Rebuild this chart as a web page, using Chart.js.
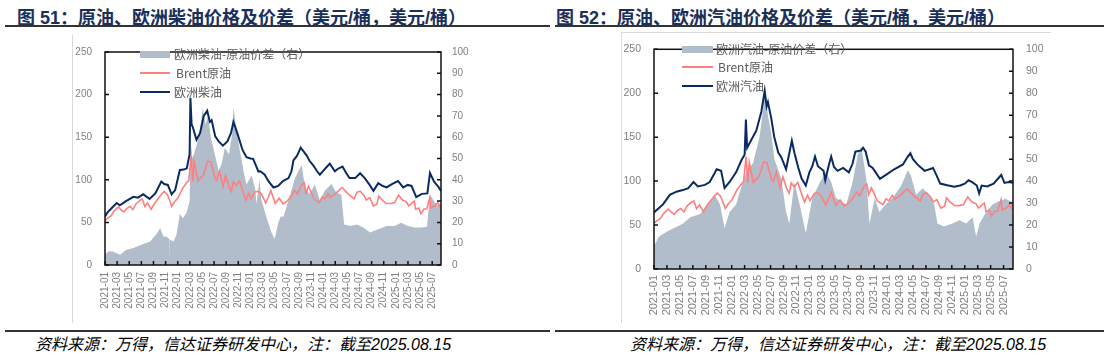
<!DOCTYPE html>
<html><head><meta charset="utf-8">
<script src="https://cdn.jsdelivr.net/npm/chart.js@4.4.1/dist/chart.umd.min.js"></script>
<style>
html,body{margin:0;padding:0;background:#fff;}
body{width:1108px;height:355px;position:relative;overflow:hidden;font-family:"Liberation Sans","Noto Sans CJK SC",sans-serif;}
.title{position:absolute;top:3px;font:bold 18px "Liberation Sans","Noto Sans CJK SC",sans-serif;color:#1b2f5b;white-space:nowrap;letter-spacing:0;}
.rule{position:absolute;height:1.5px;background:#333;}
.src{position:absolute;top:331px;font:italic 16px "Liberation Sans","Noto Sans CJK SC",sans-serif;color:#000;white-space:nowrap;}
.frame{position:absolute;background:#d9d9d9;}
.cv{position:absolute;}
.lg{position:absolute;font:12px "Noto Sans CJK SC","Liberation Sans",sans-serif;color:#595959;white-space:nowrap;line-height:14px;}
.sw{position:absolute;}
</style></head>
<body>
<div class="title" style="left:17px">图 51：原油、欧洲柴油价格及价差（美元/桶，美元/桶）</div>
<div class="title" style="left:556px">图 52：原油、欧洲汽油价格及价差（美元/桶，美元/桶）</div>
<div class="rule" style="left:5px;width:545px;top:25px"></div>
<div class="rule" style="left:555px;width:549px;top:25px"></div>
<div class="frame" style="left:72px;top:35px;width:1px;height:288px"></div>
<div class="frame" style="left:621px;top:32px;width:1px;height:291px"></div>
<div class="frame" style="left:621px;top:32px;width:430px;height:1px"></div>

<div class="cv" style="left:60px;top:33px"><canvas id="c1" width="420" height="287"></canvas></div>
<div class="cv" style="left:610px;top:30px"><canvas id="c2" width="440" height="290"></canvas></div>

<div class="sw" style="left:140px;top:51px;width:30px;height:7px;background:#b2bdcc"></div>
<div class="lg" style="left:174px;top:47px">欧洲柴油-原油价差（右）</div>
<div class="sw" style="left:140px;top:72px;width:30px;height:2px;background:#ff7f7f"></div>
<div class="lg" style="left:176px;top:66px">Brent原油</div>
<div class="sw" style="left:140px;top:91px;width:30px;height:2px;background:#0a2a63"></div>
<div class="lg" style="left:174px;top:85px">欧洲柴油</div>

<div class="sw" style="left:682px;top:46px;width:31px;height:7px;background:#b2bdcc"></div>
<div class="lg" style="left:716px;top:42px">欧洲汽油-原油价差（右）</div>
<div class="sw" style="left:682px;top:66px;width:31px;height:2px;background:#ff7f7f"></div>
<div class="lg" style="left:718px;top:60px">Brent原油</div>
<div class="sw" style="left:682px;top:85px;width:31px;height:2px;background:#0a2a63"></div>
<div class="lg" style="left:716px;top:79px">欧洲汽油</div>

<div class="rule" style="left:5px;width:545px;top:330px"></div>
<div class="rule" style="left:555px;width:549px;top:330px"></div>
<div class="src" style="left:35px">资料来源：万得，信达证券研发中心，注：截至2025.08.15</div>
<div class="src" style="left:630px">资料来源：万得，信达证券研发中心，注：截至2025.08.15</div>

<script>
// ---------- DATA ----------
const startDate = '2021-01-01';
const endDate = '2025-08-15';

const brentDates = ['2021-01-01','2021-01-15','2021-02-01','2021-02-15','2021-03-08','2021-03-22','2021-04-05','2021-04-20','2021-05-05','2021-05-20','2021-06-05','2021-06-25','2021-07-06','2021-07-19','2021-08-02','2021-08-20','2021-09-06','2021-09-28','2021-10-12','2021-10-25','2021-11-10','2021-11-26','2021-12-01','2021-12-15','2022-01-03','2022-01-26','2022-02-14','2022-02-24','2022-03-08','2022-03-16','2022-03-23','2022-04-11','2022-04-25','2022-05-09','2022-05-30','2022-06-14','2022-07-05','2022-07-14','2022-07-29','2022-08-16','2022-08-29','2022-09-16','2022-09-27','2022-10-07','2022-10-21','2022-11-07','2022-11-28','2022-12-09','2022-12-23','2023-01-04','2023-01-25','2023-02-10','2023-02-24','2023-03-17','2023-03-31','2023-04-12','2023-05-04','2023-05-24','2023-06-12','2023-06-28','2023-07-17','2023-08-10','2023-08-24','2023-09-15','2023-09-27','2023-10-06','2023-10-19','2023-11-16','2023-12-12','2023-12-27','2024-01-10','2024-01-26','2024-02-07','2024-02-29','2024-03-19','2024-04-05','2024-04-19','2024-05-06','2024-06-04','2024-06-20','2024-07-05','2024-07-24','2024-08-05','2024-08-23','2024-09-10','2024-09-27','2024-10-07','2024-10-25','2024-11-13','2024-12-05','2024-12-26','2025-01-15','2025-02-04','2025-02-21','2025-03-05','2025-03-26','2025-04-02','2025-04-09','2025-04-25','2025-05-05','2025-05-20','2025-06-04','2025-06-19','2025-06-24','2025-07-14','2025-07-30','2025-08-15'];
const brentPrice = [51.8,55.1,57.5,63.3,68.2,64.6,62.2,66.6,68.9,65.1,71.9,76.2,77.2,68.6,72.9,65.2,72.2,79.1,83.4,86.4,82.6,72.7,68.9,73.9,78.9,89.9,96.5,99.1,128.0,98.0,121.6,98.5,102.3,105.9,121.7,121.2,102.8,99.1,110.0,92.3,105.1,91.4,86.3,97.9,93.5,98.6,83.2,76.1,83.9,77.8,86.1,86.4,83.2,72.9,79.8,87.3,72.5,78.4,71.8,74.0,78.5,87.6,83.4,93.9,96.6,84.6,92.4,77.4,73.2,79.7,77.8,83.6,79.2,83.6,87.4,91.2,87.3,83.3,77.5,85.7,86.5,81.7,76.3,79.0,69.2,71.5,80.9,76.0,72.3,72.1,73.3,82.0,76.2,74.4,69.3,73.8,74.9,65.5,66.9,60.2,65.4,65.9,78.9,67.1,69.2,73.2,65.9];

const dieselDates = ['2021-01-01','2021-01-15','2021-02-01','2021-02-27','2021-03-15','2021-04-15','2021-05-22','2021-06-15','2021-07-10','2021-08-12','2021-09-10','2021-10-10','2021-10-25','2021-11-12','2021-12-01','2021-12-19','2022-01-12','2022-02-01','2022-02-15','2022-02-28','2022-03-04','2022-03-10','2022-03-16','2022-04-04','2022-04-22','2022-05-10','2022-05-28','2022-06-10','2022-06-19','2022-07-07','2022-07-25','2022-08-15','2022-09-07','2022-09-25','2022-10-07','2022-10-19','2022-11-01','2022-11-22','2022-12-12','2023-01-01','2023-01-15','2023-02-10','2023-02-19','2023-03-12','2023-04-01','2023-04-25','2023-05-19','2023-06-12','2023-07-10','2023-07-25','2023-08-04','2023-08-22','2023-09-10','2023-09-25','2023-10-10','2023-10-25','2023-11-12','2023-12-01','2023-12-15','2024-01-07','2024-01-19','2024-02-04','2024-02-28','2024-03-15','2024-04-07','2024-04-25','2024-05-12','2024-06-10','2024-07-04','2024-07-28','2024-08-19','2024-09-10','2024-10-04','2024-10-25','2024-11-15','2024-12-12','2025-01-12','2025-02-07','2025-02-28','2025-03-19','2025-04-12','2025-05-10','2025-06-07','2025-06-20','2025-07-10','2025-07-22','2025-08-01','2025-08-15'];
const dieselPrice = [57,62,66,72.8,70,75,80,79,83,77.6,84,98,95,94,83,88,111.5,112,113.5,130,196,165,162,147,155,175,181,168,170,151,145,140,145,155,168,160,151,135,126.5,125,124.6,109.7,110,106,98,91,92.8,98.6,102,110,122.8,128,137.8,133,128.4,122,117,110,106,112,115,119,110,113,115.6,108,102,102,107.7,102,95,87,96,93,91,95,98.6,91,94,92.8,79.7,83.5,84,108,98,94.6,92,87];

const dieselSpreadDates = ['2021-01-01','2021-01-20','2021-02-10','2021-03-15','2021-04-15','2021-05-22','2021-06-20','2021-07-10','2021-08-15','2021-09-01','2021-09-20','2021-10-04','2021-10-20','2021-11-10','2021-11-21','2021-11-22','2021-11-23','2021-12-10','2021-12-25','2022-01-12','2022-01-28','2022-02-15','2022-02-28','2022-03-05','2022-03-15','2022-04-01','2022-04-15','2022-04-28','2022-05-05','2022-05-20','2022-06-01','2022-06-15','2022-07-07','2022-07-25','2022-08-10','2022-08-25','2022-09-15','2022-10-01','2022-10-07','2022-10-20','2022-11-10','2022-12-01','2022-12-12','2023-01-07','2023-01-25','2023-02-01','2023-02-15','2023-02-24','2023-03-20','2023-04-15','2023-05-01','2023-05-20','2023-06-01','2023-06-15','2023-07-15','2023-08-12','2023-09-06','2023-09-15','2023-10-01','2023-10-25','2023-11-20','2023-12-15','2024-01-10','2024-02-12','2024-03-06','2024-04-01','2024-04-15','2024-05-15','2024-06-18','2024-07-20','2024-08-25','2024-10-04','2024-11-15','2024-12-25','2025-01-28','2025-03-01','2025-04-04','2025-05-07','2025-06-05','2025-06-20','2025-07-10','2025-07-25','2025-08-15'];
const dieselSpread = [4.8,6.5,6.3,4.8,7,8,9,9.9,11,12.9,15,17.4,13.5,13,12,1.8,12,11,14,24,22,25,30,58,50,55,60,68,74,66,70,60,51,44,48,55,52,62,74,65,53,42,37.8,42,36,28.8,40,30.4,22.8,15.3,12.3,20,22.8,22.8,31.8,40.8,45.4,47,36.4,33.3,37.8,30.4,35,38,34,33,19,18.3,19,17.6,15.3,16.8,18.3,18.3,19.8,18.3,17.6,17.6,18,33,30,28,28.8];

const gasolineDates = ['2021-01-01','2021-02-12','2021-03-15','2021-04-15','2021-05-15','2021-06-10','2021-07-04','2021-07-25','2021-08-28','2021-09-19','2021-10-10','2021-10-22','2021-11-12','2021-11-28','2021-12-22','2022-01-22','2022-02-15','2022-03-01','2022-03-07','2022-03-13','2022-04-01','2022-04-25','2022-05-19','2022-06-04','2022-06-13','2022-06-19','2022-07-04','2022-07-19','2022-08-07','2022-08-22','2022-09-13','2022-10-10','2022-10-22','2022-11-10','2022-11-25','2022-12-15','2023-01-01','2023-01-15','2023-01-28','2023-02-10','2023-03-07','2023-03-15','2023-04-01','2023-04-12','2023-04-25','2023-05-12','2023-06-07','2023-07-04','2023-07-22','2023-08-04','2023-09-01','2023-09-10','2023-09-22','2023-10-07','2023-10-25','2023-11-28','2024-01-01','2024-02-04','2024-03-15','2024-04-07','2024-04-19','2024-05-01','2024-05-22','2024-06-25','2024-08-04','2024-08-22','2024-09-07','2024-10-10','2024-11-12','2024-12-10','2025-01-01','2025-01-19','2025-02-07','2025-02-25','2025-03-08','2025-03-20','2025-04-15','2025-05-15','2025-06-20','2025-07-05','2025-07-25','2025-08-15'];
const gasolinePrice = [64.4,73.5,84.4,88,89.8,92,99,94,95.7,99,108,113.5,111.7,92.2,99,110,123.7,130,170,138,146.5,157.4,179,202.7,185,190,172,150,132.5,127,113.5,146,132.5,115,103,95,110,117,128,117,111.7,101,118,128,116,111.7,115,110,120,133.5,135,138,133.5,118,115,102.6,108,113.5,119,128,131.7,125,119,111.7,115,106,97.2,95.3,93.5,95,97,101,98.6,95,86,95,94,97,107,98,99,98];

const gasolineSpreadDates = ['2021-01-01','2021-01-25','2021-02-28','2021-04-01','2021-05-15','2021-06-19','2021-08-04','2021-09-13','2021-10-13','2021-11-07','2021-11-28','2021-12-22','2022-01-22','2022-02-25','2022-03-10','2022-04-10','2022-05-10','2022-05-28','2022-06-04','2022-06-19','2022-07-04','2022-07-20','2022-08-22','2022-09-13','2022-09-28','2022-10-22','2022-11-16','2022-12-15','2023-01-15','2023-02-19','2023-03-19','2023-04-12','2023-05-04','2023-06-22','2023-07-22','2023-08-16','2023-09-01','2023-09-25','2023-10-10','2023-11-04','2023-11-25','2023-12-25','2024-01-28','2024-03-07','2024-04-07','2024-04-22','2024-05-16','2024-06-16','2024-07-16','2024-08-10','2024-08-25','2024-09-25','2024-11-04','2024-12-07','2025-01-07','2025-02-07','2025-02-22','2025-03-10','2025-04-10','2025-05-10','2025-06-10','2025-07-10','2025-08-01','2025-08-15'];
const gasolineSpread = [10.5,14.8,17,18.5,20.6,23.6,25,29.4,33.8,29.4,18.5,26,29.4,41,44,48.3,60,73,82,70,62,50,41,26,20.7,39.6,29.4,16.3,32.3,39.6,44,39.6,32.3,29.4,39.6,52,56,41,20.7,32.3,26,29.4,32.3,38,45,42.5,33.8,36.7,33.8,29.4,20.7,19.3,20.7,22.2,20.7,23.6,14.8,20.7,26,29.4,30.8,32,31,30];

const leftTicks = {min: 0, max: 250, step: 50};
const rightTicks = {min: 0, max: 100, step: 10};

// ---------- HELPERS ----------
function mIdx(s){
  const [Y,M,D] = s.split('-').map(Number);
  const dim = new Date(Y, M, 0).getDate();
  return (Y-2021)*12 + (M-1) + (D-1)/dim;
}
function pts(dates, vals){ return dates.map((d,i)=>({x:mIdx(d), y:vals[i]})); }
function monthLabel(v){
  const y = 2021 + Math.floor(v/12);
  const m = Math.round(v - (y-2021)*12) + 1;
  return y + '-' + String(m).padStart(2,'0');
}

const boxPlugin = {
  id: 'box',
  afterDatasetsDraw(chart){
    const {ctx, chartArea: a, scales} = chart;
    ctx.save();
    ctx.strokeStyle = '#111';
    ctx.lineWidth = 1.5;
    ctx.strokeRect(a.left, a.top, a.right - a.left, a.bottom - a.top);
    ctx.beginPath();
    scales.x.ticks.forEach(t => {
      const p = scales.x.getPixelForValue(t.value);
      ctx.moveTo(p, a.bottom); ctx.lineTo(p, a.bottom - 4);
    });
    scales.y.ticks.forEach(t => {
      const p = scales.y.getPixelForValue(t.value);
      ctx.moveTo(a.left, p); ctx.lineTo(a.left + 4, p);
    });
    scales.y1.ticks.forEach(t => {
      const p = scales.y1.getPixelForValue(t.value);
      ctx.moveTo(a.right, p); ctx.lineTo(a.right - 4, p);
    });
    ctx.stroke();
    ctx.restore();
  }
};

function makeChart(id, spreadDates, spreadVals, prodDates, prodVals, geo){
  const tickFont = {family: '"Liberation Sans", sans-serif', size: geo.yFont};
  return new Chart(document.getElementById(id), {
    type: 'line',
    data: {
      datasets: [
        {label: 'spread', data: pts(spreadDates, spreadVals), yAxisID: 'y1', fill: 'origin',
         backgroundColor: '#b2bdcc', borderWidth: 0, pointRadius: 0, order: 3},
        {label: 'brent', data: pts(brentDates, brentPrice), yAxisID: 'y', fill: false,
         borderColor: '#ff7f7f', borderWidth: 1.6, pointRadius: 0, order: 2},
        {label: 'product', data: pts(prodDates, prodVals), yAxisID: 'y', fill: false,
         borderColor: '#0a2a63', borderWidth: 2, pointRadius: 0, order: 1}
      ]
    },
    options: {
      responsive: false, animation: false, events: [],
      layout: {padding: {top: geo.top, left: 0, right: 0, bottom: 0}},
      plugins: {legend: {display: false}, tooltip: {enabled: false}, title: {display: false}},
      elements: {line: {tension: 0}},
      scales: {
        x: {type: 'linear', min: mIdx(startDate), max: mIdx(endDate),
            grid: {display: false, drawTicks: false}, border: {display: false},
            ticks: {stepSize: 2, includeBounds: false, autoSkip: false, minRotation: 90, maxRotation: 90,
                    padding: geo.xPad, color: '#808080', font: {family: '"Liberation Sans", sans-serif', size: geo.xFont},
                    callback: v => monthLabel(v)},
            afterFit: s => { s.height = geo.xH; }},
        y: {position: 'left', min: leftTicks.min, max: leftTicks.max,
            grid: {display: false, drawTicks: false}, border: {display: false},
            ticks: {stepSize: leftTicks.step, padding: geo.lPad, color: '#808080', font: tickFont},
            afterFit: s => { s.width = geo.lW; }},
        y1: {position: 'right', min: rightTicks.min, max: rightTicks.max,
            grid: {display: false, drawTicks: false}, border: {display: false},
            ticks: {stepSize: rightTicks.step, padding: geo.rPad, color: '#808080', font: tickFont},
            afterFit: s => { s.width = geo.rW; }}
      }
    },
    plugins: [boxPlugin]
  });
}

makeChart('c1', dieselSpreadDates, dieselSpread, dieselDates, dieselPrice,
  {top: 10, xH: 55, lW: 45, rW: 39, lPad: 13, rPad: 11, xPad: 7, xFont: 10, yFont: 10});
makeChart('c2', gasolineSpreadDates, gasolineSpread, gasolineDates, gasolinePrice,
  {top: 10, xH: 51, lW: 44, rW: 37, lPad: 13, rPad: 13, xPad: 6, xFont: 11, yFont: 10.5});
</script>
</body></html>
